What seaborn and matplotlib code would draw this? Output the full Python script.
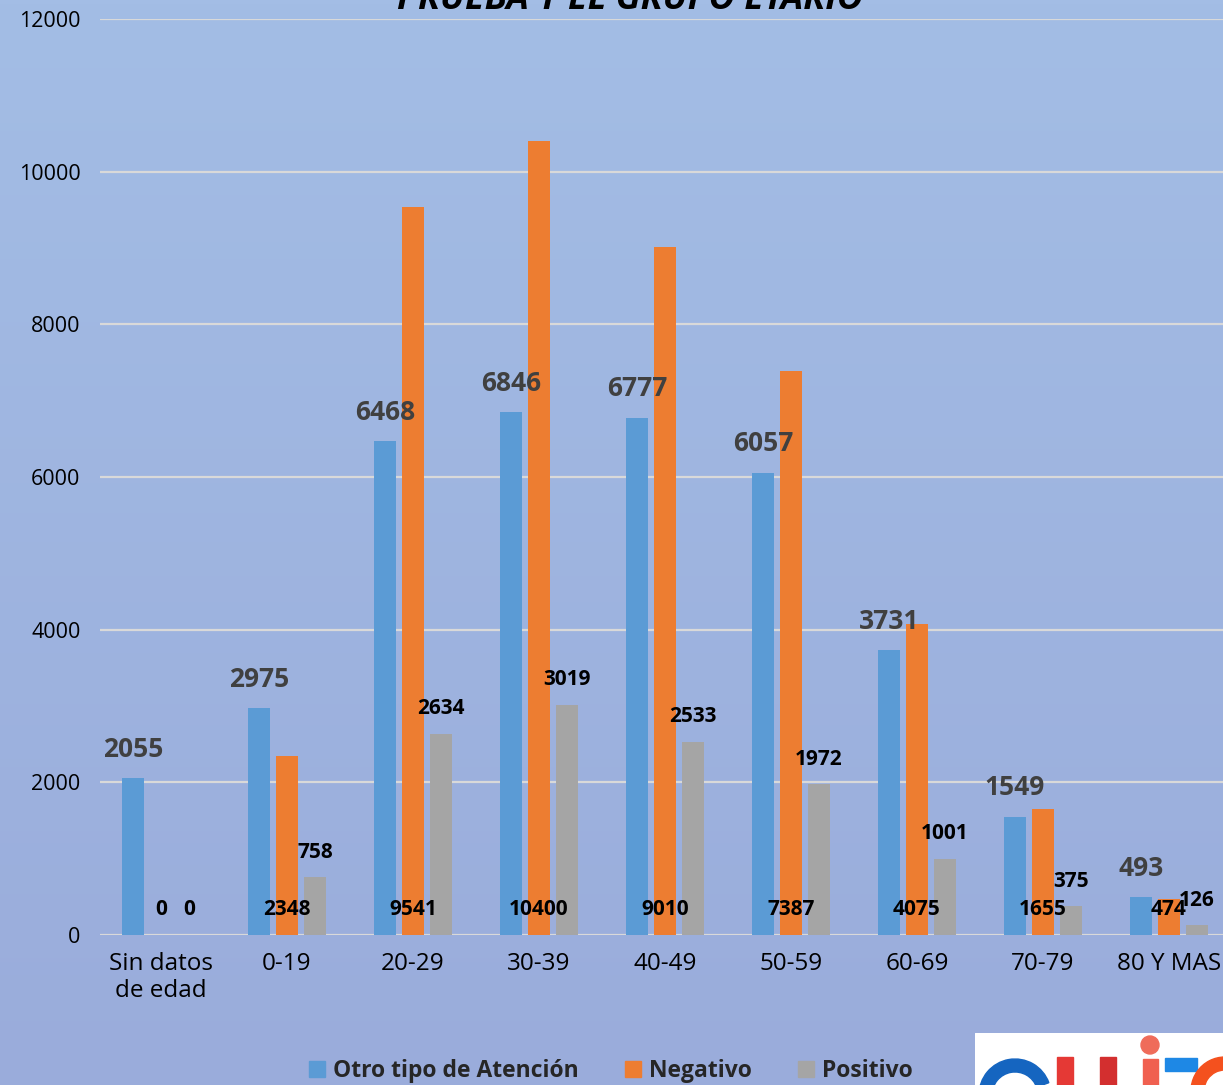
import numpy as np
import pandas as pd
import seaborn as sns
import matplotlib.pyplot as plt
from matplotlib.patches import Rectangle, Circle, Wedge

grupos = ['Sin datos\nde edad', '0-19', '20-29', '30-39', '40-49', '50-59', '60-69', '70-79', '80 Y MAS']
otro = [2055, 2975, 6468, 6846, 6777, 6057, 3731, 1549, 493]
negativo = [0, 2348, 9541, 10400, 9010, 7387, 4075, 1655, 474]
positivo = [0, 758, 2634, 3019, 2533, 1972, 1001, 375, 126]
series = ['Otro tipo de Atención', 'Negativo', 'Positivo']
colores = ['#5B9BD5', '#ED7D31', '#A5A5A5']

df = pd.DataFrame({
    'grupo': grupos * 3,
    'serie': [series[0]] * 9 + [series[1]] * 9 + [series[2]] * 9,
    'valor': otro + negativo + positivo,
})

sns.set_style('white')
plt.rcParams['font.family'] = ['Open Sans', 'DejaVu Sans']

fig = plt.figure(figsize=(12.23, 10.85), dpi=100)

# fondo degradado
bg = fig.add_axes([0, 0, 1, 1], zorder=-10)
grad = np.linspace(0, 1, 256).reshape(-1, 1)
top = np.array([0xA3, 0xBD, 0xE5]) / 255
bot = np.array([0x9A, 0xAC, 0xDB]) / 255
img = top[None, None, :] * (1 - grad[:, :, None]) + bot[None, None, :] * grad[:, :, None]
bg.imshow(img, aspect='auto', extent=[0, 1, 0, 1])
bg.axis('off')

ax = fig.add_axes([100 / 1223, 1 - 935 / 1085, 1 - 100 / 1223, (935 - 19) / 1085])
ax.patch.set_alpha(0)
sns.barplot(data=df, x='grupo', y='valor', hue='serie', palette=colores,
            width=0.667, gap=0.21, ax=ax, legend=False, saturation=1,
            edgecolor='none', linewidth=0)

ax.set_ylim(0, 12000)
ax.set_xlim(-0.484, 8.43)
ax.set_yticks(range(0, 12001, 2000))
ax.yaxis.grid(True, color='#D9D9D9', lw=1.6)
ax.set_axisbelow(True)
ax.tick_params(axis='both', length=0, colors='black')
ax.tick_params(axis='y', pad=14, labelsize=15.5)
ax.tick_params(axis='x', pad=12, labelsize=17.5)
ax.set_xlabel('')
ax.set_ylabel('')
for s in ax.spines.values():
    s.set_visible(False)

for i, cont in enumerate(ax.containers):
    for bar in cont:
        xc = bar.get_x() + bar.get_width() / 2
        h = bar.get_height()
        if i == 0:
            ax.text(xc, h + 200, f'{int(h)}', ha='center', va='bottom',
                    fontsize=19, fontweight='bold', color='#404040')
        elif i == 1:
            ax.text(xc, 330, f'{int(h)}', ha='center', va='center',
                    fontsize=15, fontweight='bold', color='black')
        else:
            ax.text(xc, h + 190, f'{int(h)}', ha='center', va='bottom',
                    fontsize=15, fontweight='bold', color='black')

handles = [Rectangle((0, 0), 1, 1, color=c) for c in colores]
leg = fig.legend(handles, series, loc='center', bbox_to_anchor=(611 / 1223, 1 - 1071 / 1085),
                 ncol=3, frameon=False, handlelength=0.7, handleheight=0.7,
                 columnspacing=2.0, handletextpad=0.35, prop={'size': 16.5, 'weight': 'bold'})

fig.text(630 / 1223, 1 - 9 / 1085, 'PRUEBA Y EL GRUPO ETARIO', ha='center', va='baseline',
         fontsize=26, fontweight='bold', fontstyle='italic', color='black')

# logo recortado abajo a la derecha
logo = fig.add_axes([975 / 1223, 0, 248 / 1223, 52 / 1085])
logo.set_xlim(0, 248)
logo.set_ylim(0, 52)
logo.add_patch(Rectangle((0, 0), 248, 52, color='white'))
logo.add_patch(Wedge((40, -10), 36, 20, 180, width=13, color='#1565C0'))
logo.add_patch(Rectangle((82, 0), 16, 28, color='#E53935'))
logo.add_patch(Rectangle((125, 0), 16, 28, color='#D32F2F'))
logo.add_patch(Circle((175, 40), 9, color='#EF6C5A'))
logo.add_patch(Rectangle((168, 0), 15, 26, color='#F06050'))
logo.add_patch(Rectangle((190, 14), 32, 13, color='#1E88E5'))
logo.add_patch(Wedge((250, -6), 34, 90, 200, width=13, color='#F4511E'))
logo.axis('off')

fig.savefig('out.png', dpi=100)
